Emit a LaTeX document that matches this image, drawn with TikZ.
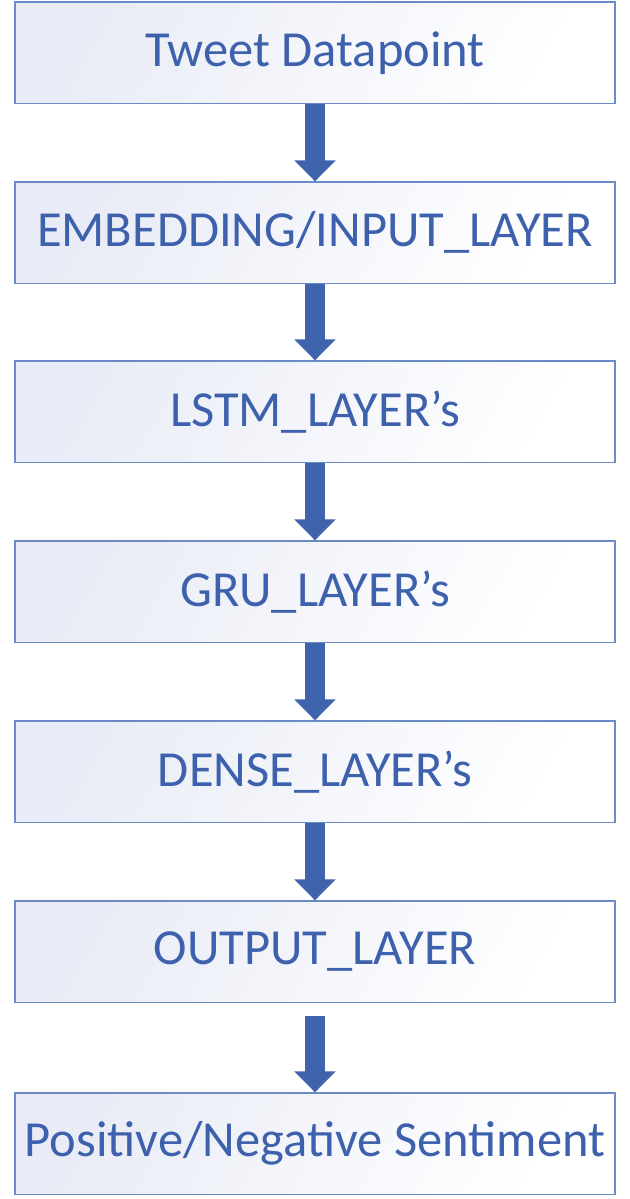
\documentclass[tikz,border=0pt]{standalone}
\usepackage{fontspec}
\setmainfont{Carlito}
\usetikzlibrary{arrows.meta,positioning}
\definecolor{boxline}{HTML}{6A8AC8}
\definecolor{boxfill}{HTML}{E9ECF6}
\definecolor{txtblue}{HTML}{3D61AC}
\definecolor{arrblue}{HTML}{3F64AD}
\tikzset{
  layerbox/.style={draw=boxline, line width=1.3bp, top color=boxfill, bottom color=white, shading angle=60,
    minimum width=600bp, minimum height=101.5bp, inner sep=0pt, text=txtblue,
    font=\fontsize{50.5bp}{60bp}\selectfont},
  bigarrow/.style={draw=arrblue, line width=20bp, line cap=butt,
    -{Triangle[width=40bp,length=21bp]}, arrblue}
}
\begin{document}
\begin{tikzpicture}[x=1bp,y=-1bp]
\useasboundingbox (0,0) rectangle (630,1199);
\node[layerbox] (a) at (315,52.75) {Tweet Datapoint};
\node[layerbox] (b) at (315,232.75) {EMBEDDING/INPUT\_LAYER};
\node[layerbox] (c) at (315,411.75) {LSTM\_LAYER’s};
\node[layerbox] (d) at (315,591.75) {GRU\_LAYER’s};
\node[layerbox] (e) at (315,771.75) {DENSE\_LAYER’s};
\node[layerbox] (f) at (315,951.75) {OUTPUT\_LAYER};
\node[layerbox] (g) at (315,1143.75) {Positive/Negative Sentiment};
\draw[bigarrow] (a.south) -- (b.north);
\draw[bigarrow] (b.south) -- (c.north);
\draw[bigarrow] (c.south) -- (d.north);
\draw[bigarrow] (d.south) -- (e.north);
\draw[bigarrow] (e.south) -- (f.north);
\draw[bigarrow] ([yshift=-13bp]f.south) -- (g.north);
\end{tikzpicture}
\end{document}
